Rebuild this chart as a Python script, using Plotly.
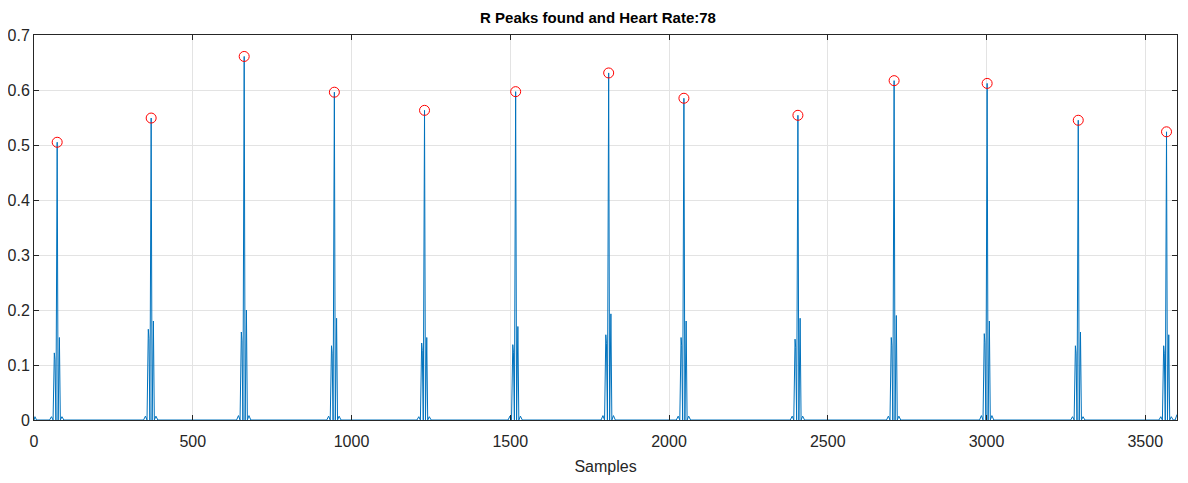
import plotly.graph_objects as go

# Beat features
peak_samples = [73, 369, 662, 946, 1230, 1517, 1810, 2047, 2406, 2709, 3002, 3289, 3567]
peak_heights = [0.505, 0.549, 0.661, 0.596, 0.563, 0.597, 0.631, 0.585, 0.554, 0.617, 0.612, 0.545, 0.524]
left_lobe = [0.122, 0.165, 0.160, 0.135, 0.140, 0.137, 0.155, 0.150, 0.147, 0.150, 0.157, 0.135, 0.135]
right_lobe = [0.150, 0.180, 0.200, 0.185, 0.150, 0.170, 0.193, 0.180, 0.185, 0.190, 0.180, 0.160, 0.155]
small_bump = [0.006, 0.007, 0.008, 0.007, 0.006, 0.007, 0.008, 0.007, 0.007, 0.007, 0.008, 0.006, 0.006]
n_samples = 3600
heart_rate = 78

# Build the line: baseline 0 with each beat's lobes and peak
xs, ys = [0, 3, 8], [0.0, 0.006, 0.0]
for p, h, l, r, b in zip(peak_samples, peak_heights, left_lobe, right_lobe, small_bump):
    pts = [
        (p - 24, 0.0), (p - 18, b), (p - 13, 0.0),
        (p - 9, l), (p - 7, l * 0.9), (p - 4, 0.0),
        (p, h),
        (p + 3, 0.0), (p + 5, r * 0.9), (p + 7, r), (p + 10, 0.0),
        (p + 15, b), (p + 21, 0.0),
    ]
    for x, y in pts:
        if 0 <= x <= n_samples:
            xs.append(x)
            ys.append(y)
xs += [3594, n_samples]
ys += [0.0, 0.01]

fig = go.Figure()
fig.add_trace(go.Scatter(x=xs, y=ys, mode="lines",
                         line=dict(color="#0072BD", width=1), hoverinfo="skip"))
fig.add_trace(go.Scatter(x=peak_samples, y=peak_heights, mode="markers",
                         marker=dict(symbol="circle-open", color="#FF0000", size=10,
                                     line=dict(width=1))))

font_family = "Liberation Sans, Arial"
axis_common = dict(
    showline=True, mirror="ticks", linecolor="#262626", linewidth=1,
    ticks="inside", ticklen=5, tickcolor="#262626", automargin=False,
    showgrid=True, gridcolor="#e3e3e3", gridwidth=1, zeroline=False,
    tickfont=dict(family=font_family, size=16, color="#262626"),
)
# page body has an 8px margin, so the figure is sized 8px smaller on each side
fig.update_layout(
    width=1180, height=475,
    margin=dict(l=26, r=11, t=27, b=63),
    paper_bgcolor="white", plot_bgcolor="white",
    showlegend=False,
    title=dict(text="<b>R Peaks found and Heart Rate:%d</b>" % heart_rate,
               x=0.5, xanchor="center", y=0.979, yanchor="middle",
               font=dict(family=font_family, size=15, color="#000000")),
    xaxis=dict(range=[0, n_samples], tickvals=[0, 500, 1000, 1500, 2000, 2500, 3000, 3500],
               ticklabelstandoff=7,
               title=dict(text="Samples", standoff=11,
                          font=dict(family=font_family, size=16, color="#262626")),
               **axis_common),
    yaxis=dict(range=[0, 0.7], tickvals=[0, 0.1, 0.2, 0.3, 0.4, 0.5, 0.6, 0.7],
               ticktext=["0", "0.1", "0.2", "0.3", "0.4", "0.5", "0.6", "0.7"],
               **axis_common),
)
fig.write_html("out.html")
